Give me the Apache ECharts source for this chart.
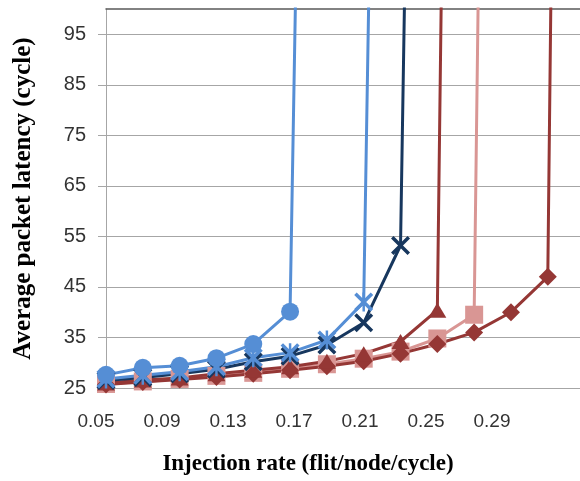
<!DOCTYPE html>
<html>
<head>
<meta charset="utf-8">
<script src="https://cdn.jsdelivr.net/npm/echarts@6/dist/echarts.min.js"></script>
<style>
html, body { margin: 0; padding: 0; background: #fff; }
#container { width: 580px; height: 481px; }
</style>
</head>
<body>
<div id="container"></div>
<script>
// injection rates (flit/node/cycle), one entry per measured point
var rates = [0.05, 0.07, 0.09, 0.11, 0.13, 0.15, 0.17, 0.19, 0.21, 0.23, 0.25, 0.27, 0.29, 0.31];

// latency (cycle); the last value of each series is the saturated point off the top
var circleVals   = [27.6, 29.0, 29.4, 30.9, 33.7, 40.1, 460];
var starVals     = [26.8, 27.5, 28.2, 29.2, 31.0, 32.0, 34.5, 42.0, 480];
var crossVals    = [26.5, 27.1, 27.8, 28.7, 30.2, 31.3, 33.5, 37.9, 53.2, 500];
var triangleVals = [26.0, 26.6, 27.0, 27.8, 28.5, 29.2, 30.3, 31.8, 34.2, 40.4, 620];
var squareVals   = [25.8, 26.3, 26.8, 27.4, 28.0, 28.8, 29.7, 30.8, 32.2, 34.8, 39.5, 610];
var diamondVals  = [25.7, 26.2, 26.7, 27.2, 27.8, 28.5, 29.3, 30.3, 31.8, 33.7, 36.0, 40.0, 47.0, 700];

var yTicks = [25, 35, 45, 55, 65, 75, 85, 95];
var xTickLabels = ['0.05', '0.09', '0.13', '0.17', '0.21', '0.25', '0.29'];

var crossPath = 'path://M0,1.3L1.3,0L5,3.7L8.7,0L10,1.3L6.3,5L10,8.7L8.7,10L5,6.3L1.3,10L0,8.7L3.7,5Z';
var starPath = 'path://M0,1.3L1.3,0L5,3.7L8.7,0L10,1.3L6.3,5L10,8.7L8.7,10L5,6.3L1.3,10L0,8.7L3.7,5Z' +
    'M4.35,0L5.65,0L5.65,10L4.35,10Z';

function pairs(vals) {
    return vals.map(function (v, i) { return [rates[i], v]; });
}

function lineSeries(vals, color, symbol, size) {
    return {
        type: 'line',
        xAxisIndex: 0,
        yAxisIndex: 0,
        data: pairs(vals),
        symbol: symbol,
        symbolSize: size,
        showAllSymbol: true,
        clip: true,
        lineStyle: { color: color, width: 3 },
        itemStyle: { color: color, borderWidth: 0 },
        emphasis: { disabled: true }
    };
}

var myChart = echarts.init(document.getElementById('container'));
var gridColor = '#a6a6a6';
var labelColor = '#333333';

var option = {
    animation: false,
    grid: [
        { left: 106, right: 0, top: 9, bottom: 93 },
        { left: 96, right: 88, top: 9, bottom: 93 }
    ],
    xAxis: [
        {
            type: 'value',
            gridIndex: 0,
            min: 0.05,
            max: 0.3075,
            position: 'top',
            axisLine: { show: true, onZero: false, lineStyle: { color: '#595959', width: 1.5 } },
            axisTick: { show: false },
            axisLabel: { show: false },
            splitLine: { show: false }
        },
        {
            type: 'category',
            gridIndex: 1,
            data: xTickLabels,
            boundaryGap: false,
            axisLine: { show: false },
            axisTick: { show: false },
            axisLabel: {
                interval: 0,
                fontSize: 19,
                margin: 25,
                color: labelColor,
                fontFamily: 'Liberation Sans'
            },
            name: 'Injection rate (flit/node/cycle)',
            nameLocation: 'middle',
            nameGap: 66,
            nameTextStyle: {
                fontFamily: 'Liberation Serif',
                fontWeight: 'bold',
                fontSize: 23,
                color: '#000',
                padding: [0, 0, 0, 28]
            }
        }
    ],
    yAxis: [
        {
            type: 'value',
            gridIndex: 0,
            min: 25,
            max: 100,
            axisLine: { show: true, lineStyle: { color: gridColor, width: 1 } },
            axisTick: { show: true, length: 8, customValues: yTicks, lineStyle: { color: gridColor } },
            axisLabel: {
                customValues: yTicks,
                fontSize: 20,
                margin: 20,
                color: labelColor,
                fontFamily: 'Liberation Sans'
            },
            splitLine: { show: true, lineStyle: { color: gridColor, width: 1.2 } },
            name: 'Average packet latency (cycle)',
            nameLocation: 'middle',
            nameGap: 70,
            nameTextStyle: {
                fontFamily: 'Liberation Serif',
                fontWeight: 'bold',
                fontSize: 25,
                color: '#000'
            }
        },
        { type: 'value', gridIndex: 1, show: false }
    ],
    series: [
        lineSeries(squareVals, '#d99694', 'rect', 18),
        lineSeries(diamondVals, '#953735', 'diamond', 18),
        lineSeries(triangleVals, '#953735', 'triangle', [18, 15]),
        lineSeries(crossVals, '#17375e', crossPath, 19),
        lineSeries(starVals, '#558ed5', starPath, 19),
        lineSeries(circleVals, '#558ed5', 'circle', 18)
    ]
};

myChart.setOption(option, true);
window.onresize = function () {
    myChart.resize();
};
</script>
</body>
</html>
